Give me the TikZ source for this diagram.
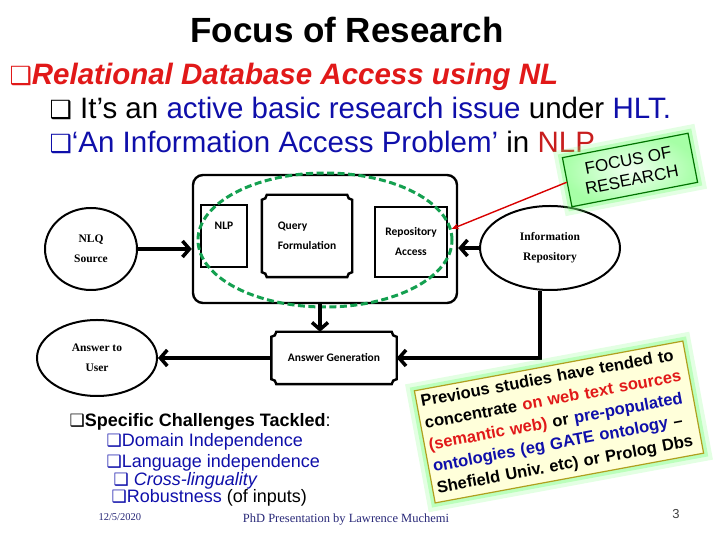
\documentclass[tikz,border=0pt]{standalone}
\usepackage{fontspec}
\setmainfont{Liberation Sans}
\newfontfamily\symfont{DejaVu Sans}
\newfontfamily\narrowfont{Carlito}
\newfontfamily\timesfont{Liberation Serif}
\usetikzlibrary{shapes.geometric,arrows.meta,positioning}
\definecolor{hdred}{RGB}{225,25,25}
\definecolor{nlpred}{RGB}{200,30,30}
\definecolor{txtblue}{RGB}{15,15,170}
\definecolor{ringgreen}{RGB}{20,160,80}
\definecolor{footnavy}{RGB}{40,40,120}
\definecolor{boxyel}{RGB}{255,255,218}
\definecolor{boxedge}{RGB}{175,160,30}
\newcommand\sqbullet[1]{{\symfont\fontsize{#1}{#1}\selectfont ❑}}
\newcommand\plaque[1]{%
  \draw[boxline] ([xshift=5pt]#1.north west) -- ([xshift=-5pt]#1.north east)
    arc[start angle=180,end angle=270,radius=5pt] -- ([yshift=5pt]#1.south east)
    arc[start angle=90,end angle=180,radius=5pt] -- ([xshift=5pt]#1.south west)
    arc[start angle=0,end angle=90,radius=5pt] -- ([yshift=-5pt]#1.north west)
    arc[start angle=270,end angle=360,radius=5pt] -- cycle;}
\begin{document}
\frenchspacing
\begin{tikzpicture}[x=1pt,y=1pt,
  boxline/.style={draw=black,line width=2.4pt},
  lbl/.style={font=\narrowfont\bfseries\fontsize{11.5}{20}\selectfont,align=center,inner sep=0pt},
  oval/.style={ellipse,draw=black,line width=2pt,align=center,
               font=\timesfont\bfseries\fontsize{11.5}{20}\selectfont},
  arr/.style={-{Straight Barb[length=7pt,width=16pt]},line width=3.5pt},
  redarr/.style={-{Stealth[length=7pt,width=6pt]},draw=red!85!black,line width=1.4pt},
  glow/.style={preaction={draw=green!55,line width=16pt,opacity=.2},
               preaction={draw=green!55,line width=8pt,opacity=.35}},
  hdline/.style={anchor=base west,font=\fontsize{29.5}{34}\selectfont},
  chline/.style={anchor=base west,font=\fontsize{18}{20}\selectfont},
  foot/.style={font=\timesfont\fontsize{12.5}{14}\selectfont,text=footnavy}
]
\fill[white] (0,0) rectangle (720,540);
\useasboundingbox (0,0) rectangle (720,540);

\node[anchor=base,font=\bfseries\fontsize{35}{40}\selectfont] (title) at (347,497) {Focus of Research};
\node[hdline,text=hdred] (rdb) at (6,455) {\sqbullet{25}\textbf{\textit{Relational Database Access using NL}}};
\node[hdline] (hlt) at ([xshift=40pt,yshift=-34pt]rdb.base west)
  {\sqbullet{25}\ It’s an \textcolor{txtblue}{active basic research issue} under \textcolor{txtblue}{HLT.}};
\node[hdline] (iap) at ([yshift=-34pt]hlt.base west)
  {\textcolor{txtblue}{\sqbullet{25}‘An Information Access Problem’} in \textcolor{nlpred}{NLP}};

% system diagram
\node[draw,rounded corners=10pt,line width=2.4pt,minimum width=264pt,minimum height=128pt] (core) at (325,301) {};
\node[boxline,lbl,minimum width=46pt,minimum height=62pt,text height=8pt,text depth=20pt] (nlp) at (224,304) {NLP};
\node[lbl,align=left,minimum width=90pt,minimum height=82pt] (query) at (307,304) {Query\\Formulation};
\plaque{query}
\node[boxline,lbl,minimum width=72pt,minimum height=70pt] (repo) at (411,298) {Repository\\Access};
\node[oval,minimum width=92pt,minimum height=82pt] (nlq) at (91,291) {NLQ\\Source};
\node[oval,minimum width=140pt,minimum height=84pt] (inforep) at (550,292) {Information\\Repository};
\node[oval,minimum width=120pt,minimum height=76pt] (ansuser) at (97,182) {Answer to\\User};
\node[lbl,minimum width=125pt,minimum height=52pt] (ansgen) at (334,182) {Answer Generation};
\plaque{ansgen}
\node[ellipse,draw=ringgreen,dash pattern=on 7pt off 3.5pt,line width=3pt,
      minimum width=254pt,minimum height=134pt] (focus) at (325,300) {};

\draw[arr] (nlq.east) -- (nlq.east -| core.west);
\draw[arr] (inforep.west) -- (inforep.west -| core.east);
\draw[arr] ([xshift=-5pt]core.south) -- ([xshift=-5pt]core.south |- ansgen.north);
\draw[arr] ([xshift=-10pt]inforep.south) |- (ansgen.east);
\draw[arr] (ansgen.west) -- (ansuser.east);

\node[rotate=11,draw=green!45!black,line width=1.2pt,inner color=green!6,outer color=green!35,glow,
      minimum width=128pt,minimum height=50pt,align=center,font=\fontsize{17}{20}\selectfont] (flabel) at (630,370) {FOCUS OF\\RESEARCH};
\draw[redarr] (flabel.west) -- (focus.5);

\node[rotate=10.5,fill=boxyel,draw=boxedge,line width=1.2pt,glow,text width=264pt,align=left,
      inner sep=4.5pt,minimum height=114pt,font=\bfseries\fontsize{16.5}{22}\selectfont] (prev) at (559,118)
  {Previous studies have tended to\\
   concentrate \textcolor{hdred}{on web text sources}\\
   \textcolor{hdred}{(semantic web)} or \textcolor{txtblue}{pre-populated}\\
   \textcolor{txtblue}{ontologies (eg GATE ontology} –\\
   Shefield Univ. etc) or Prolog Dbs};

% challenges
\node[chline] (chal) at (66,113) {\sqbullet{17}\textbf{Specific Challenges Tackled}:};
\node[chline,text=txtblue] (dom) at ([xshift=37pt,yshift=-20pt]chal.base west) {\sqbullet{17}Domain Independence};
\node[chline,text=txtblue] (lang) at ([yshift=-21pt]dom.base west) {\sqbullet{17}Language independence};
\node[chline,text=txtblue] (cross) at ([xshift=7pt,yshift=-18pt]lang.base west) {\sqbullet{17}\ \textit{Cross-linguality}};
\node[chline] (robust) at ([xshift=-2pt,yshift=-17pt]cross.base west) {\textcolor{txtblue}{\sqbullet{17}Robustness} (of inputs)};

\node[foot,anchor=base west,font=\timesfont\fontsize{10.5}{12}\selectfont] (date) at (95,19) {12/5/2020};
\node[foot,anchor=base] (pres) at (346,17) {PhD Presentation by Lawrence Muchemi};
\node[anchor=base,font=\fontsize{13}{15}\selectfont,text=black!75] (pnum) at (676,21) {3};
\end{tikzpicture}
\end{document}
